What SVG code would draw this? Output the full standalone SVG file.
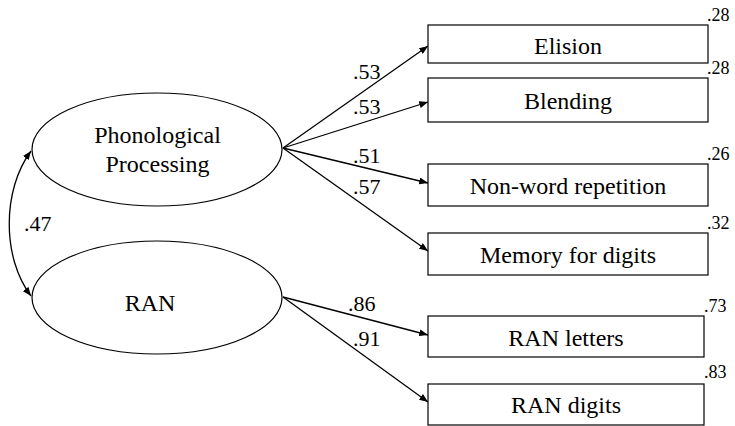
<svg xmlns="http://www.w3.org/2000/svg" width="735" height="426" viewBox="0 0 735 426">
<defs>
<marker id="ah" viewBox="0 0 10 8" refX="10" refY="4" markerWidth="9" markerHeight="7" markerUnits="userSpaceOnUse" orient="auto-start-reverse">
<path d="M0,0 L10,4 L0,8 z" fill="#000"/>
</marker>
</defs>
<rect width="735" height="426" fill="#fff"/>
<g id="connectors" fill="none" stroke="#000" stroke-width="1.3">
<path d="M31 151 C2 190, 2 258, 31 296" marker-start="url(#ah)" marker-end="url(#ah)"/>
<line x1="283" y1="148" x2="428" y2="46" marker-end="url(#ah)"/>
<line x1="283" y1="148" x2="428" y2="102" marker-end="url(#ah)"/>
<line x1="283" y1="148" x2="428" y2="183" marker-end="url(#ah)"/>
<line x1="283" y1="148" x2="428" y2="251" marker-end="url(#ah)"/>
<line x1="283" y1="297" x2="428" y2="335" marker-end="url(#ah)"/>
<line x1="283" y1="297" x2="428" y2="402" marker-end="url(#ah)"/>
</g>
<g id="path-labels" fill="#000" stroke="none">
<text font-family="Liberation Serif" font-size="22" x="24" y="231">.47</text>
<text font-family="Liberation Serif" font-size="22" x="353" y="79">.53</text>
<text font-family="Liberation Serif" font-size="22" x="353" y="114">.53</text>
<text font-family="Liberation Serif" font-size="22" x="353" y="163">.51</text>
<text font-family="Liberation Serif" font-size="22" x="353" y="194">.57</text>
<text font-family="Liberation Serif" font-size="22" x="348" y="311">.86</text>
<text font-family="Liberation Serif" font-size="22" x="353" y="346">.91</text>
</g>
<g id="phon">
<ellipse cx="157" cy="149.5" rx="125" ry="56.5" fill="#fff" stroke="#000" stroke-width="1.2"/>
<text font-family="Liberation Serif" font-size="24" text-anchor="middle" x="157.5" y="143">Phonological</text>
<text font-family="Liberation Serif" font-size="24" text-anchor="middle" x="157.5" y="172">Processing</text>
</g>
<g id="ran">
<ellipse cx="157" cy="297.5" rx="125" ry="56.5" fill="#fff" stroke="#000" stroke-width="1.2"/>
<text font-family="Liberation Serif" font-size="24" text-anchor="middle" x="150" y="311">RAN</text>
</g>
<g id="elision">
<rect x="428" y="25" width="280" height="38" fill="#fff" stroke="#000" stroke-width="1.2"/>
<text font-family="Liberation Serif" font-size="24" text-anchor="middle" x="568" y="54">Elision</text>
<text font-family="Liberation Serif" font-size="18" x="707" y="21">.28</text>
</g>
<g id="blending">
<rect x="428" y="78" width="280" height="44" fill="#fff" stroke="#000" stroke-width="1.2"/>
<text font-family="Liberation Serif" font-size="24" text-anchor="middle" x="568" y="109">Blending</text>
<text font-family="Liberation Serif" font-size="18" x="707" y="74">.28</text>
</g>
<g id="nonword">
<rect x="428" y="164" width="280" height="42" fill="#fff" stroke="#000" stroke-width="1.2"/>
<text font-family="Liberation Serif" font-size="24" text-anchor="middle" x="568" y="194">Non-word repetition</text>
<text font-family="Liberation Serif" font-size="18" x="707" y="160">.26</text>
</g>
<g id="memory">
<rect x="428" y="233" width="280" height="42" fill="#fff" stroke="#000" stroke-width="1.2"/>
<text font-family="Liberation Serif" font-size="24" text-anchor="middle" x="568" y="263">Memory for digits</text>
<text font-family="Liberation Serif" font-size="18" x="707" y="229">.32</text>
</g>
<g id="ranletters">
<rect x="428" y="316" width="276" height="41" fill="#fff" stroke="#000" stroke-width="1.2"/>
<text font-family="Liberation Serif" font-size="24" text-anchor="middle" x="566" y="346">RAN letters</text>
<text font-family="Liberation Serif" font-size="18" x="704" y="312">.73</text>
</g>
<g id="randigits">
<rect x="428" y="384" width="276" height="41" fill="#fff" stroke="#000" stroke-width="1.2"/>
<text font-family="Liberation Serif" font-size="24" text-anchor="middle" x="566" y="413">RAN digits</text>
<text font-family="Liberation Serif" font-size="18" x="704" y="378">.83</text>
</g>
</svg>
